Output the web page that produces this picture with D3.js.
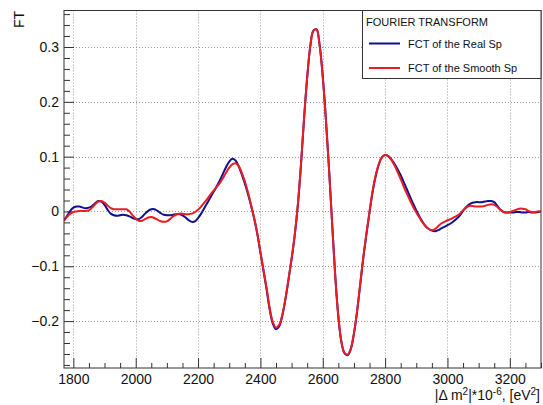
<!DOCTYPE html>
<html>
<head>
<meta charset="utf-8">
<script src="https://cdn.jsdelivr.net/npm/d3@7"></script>
<style>
  html, body { margin: 0; padding: 0; background: #fff; }
  svg { display: block; font-family: "Liberation Sans", Arial, sans-serif; }
</style>
</head>
<body>
<svg id="chart" width="543" height="405"></svg>
<script>
// |Δm²| sampling grid (units of 1e-6 eV²)
const dm2 = [
  1770, 1780, 1790, 1800, 1810, 1820, 1830, 1840, 1850, 1860,
  1870, 1880, 1890, 1900, 1910, 1920, 1930, 1940, 1950, 1960,
  1970, 1980, 1990, 2000, 2010, 2020, 2030, 2040, 2050, 2060,
  2070, 2080, 2090, 2100, 2110, 2120, 2130, 2140, 2150, 2160,
  2170, 2180, 2190, 2200, 2210, 2220, 2230, 2240, 2250, 2260,
  2270, 2280, 2290, 2300, 2310, 2320, 2330, 2340, 2350, 2360,
  2370, 2380, 2390, 2400, 2410, 2420, 2430, 2440, 2450, 2460,
  2470, 2480, 2490, 2500, 2510, 2520, 2530, 2540, 2550, 2560,
  2570, 2580, 2590, 2600, 2610, 2620, 2630, 2640, 2650, 2660,
  2670, 2680, 2690, 2700, 2710, 2720, 2730, 2740, 2750, 2760,
  2770, 2780, 2790, 2800, 2810, 2820, 2830, 2840, 2850, 2860,
  2870, 2880, 2890, 2900, 2910, 2920, 2930, 2940, 2950, 2960,
  2970, 2980, 2990, 3000, 3010, 3020, 3030, 3040, 3050, 3060,
  3070, 3080, 3090, 3100, 3110, 3120, 3130, 3140, 3150, 3160,
  3170, 3180, 3190, 3200, 3210, 3220, 3230, 3240, 3250, 3260,
  3270, 3280, 3290, 3300
];

// Fourier cosine transform of the real spectrum
const fctReal = [
  -0.016, -0.008, 0.001, 0.007, 0.009, 0.009, 0.007, 0.006, 0.007, 0.010,
  0.015, 0.019, 0.018, 0.012, 0.003, -0.004, -0.007, -0.008, -0.007, -0.006,
  -0.007, -0.009, -0.012, -0.014, -0.014, -0.010, -0.004, 0.001, 0.004, 0.004,
  0.001, -0.003, -0.006, -0.007, -0.007, -0.006, -0.005, -0.005, -0.007, -0.011,
  -0.016, -0.019, -0.018, -0.012, -0.004, 0.006, 0.016, 0.026, 0.036, 0.046,
  0.057, 0.069, 0.081, 0.091, 0.096, 0.093, 0.083, 0.068, 0.051, 0.032,
  0.011, -0.013, -0.041, -0.075, -0.109, -0.143, -0.180, -0.205, -0.215, -0.210,
  -0.191, -0.161, -0.125, -0.087, -0.044, 0.011, 0.084, 0.169, 0.244, 0.301,
  0.330, 0.332, 0.303, 0.246, 0.169, 0.079, -0.021, -0.117, -0.192, -0.239,
  -0.259, -0.262, -0.251, -0.223, -0.183, -0.134, -0.085, -0.042, -0.002, 0.036,
  0.065, 0.086, 0.099, 0.103, 0.101, 0.095, 0.087, 0.077, 0.066, 0.053,
  0.040, 0.027, 0.014, 0.002, -0.009, -0.019, -0.027, -0.032, -0.035, -0.036,
  -0.034, -0.031, -0.028, -0.025, -0.022, -0.018, -0.013, -0.007, 0.001, 0.008,
  0.013, 0.016, 0.017, 0.017, 0.017, 0.018, 0.019, 0.019, 0.017, 0.010,
  0.003, -0.001, -0.002, -0.002, -0.002, -0.001, -0.001, -0.002, -0.002, -0.001,
  -0.002, -0.002, -0.001, 0.000
];

// Fourier cosine transform of the smoothed spectrum
const fctSmooth = [
  -0.017, -0.010, -0.004, -0.001, 0.000, 0.001, 0.001, 0.001, 0.002, 0.007,
  0.013, 0.018, 0.019, 0.016, 0.011, 0.006, 0.004, 0.004, 0.004, 0.004,
  0.004, 0.000, -0.007, -0.013, -0.017, -0.017, -0.014, -0.011, -0.010, -0.012,
  -0.015, -0.018, -0.019, -0.018, -0.014, -0.009, -0.006, -0.004, -0.004, -0.005,
  -0.005, -0.004, -0.001, 0.003, 0.009, 0.016, 0.023, 0.031, 0.038, 0.045,
  0.052, 0.061, 0.071, 0.080, 0.086, 0.088, 0.083, 0.071, 0.055, 0.035,
  0.012, -0.012, -0.040, -0.074, -0.107, -0.140, -0.177, -0.202, -0.212, -0.207,
  -0.189, -0.160, -0.124, -0.086, -0.043, 0.012, 0.085, 0.170, 0.245, 0.302,
  0.330, 0.332, 0.303, 0.245, 0.168, 0.078, -0.022, -0.118, -0.192, -0.238,
  -0.258, -0.261, -0.250, -0.222, -0.182, -0.133, -0.083, -0.040, 0.000, 0.038,
  0.066, 0.087, 0.099, 0.103, 0.101, 0.094, 0.084, 0.072, 0.059, 0.045,
  0.032, 0.020, 0.008, -0.002, -0.011, -0.020, -0.027, -0.032, -0.034, -0.032,
  -0.027, -0.022, -0.019, -0.016, -0.014, -0.011, -0.008, -0.004, 0.002, 0.007,
  0.010, 0.010, 0.009, 0.009, 0.009, 0.010, 0.012, 0.013, 0.012, 0.008,
  0.003, -0.001, -0.002, -0.001, 0.001, 0.003, 0.005, 0.005, 0.004, 0.001,
  -0.001, -0.001, 0.000, 0.000
];

const xTicks = [1800, 2000, 2200, 2400, 2600, 2800, 3000, 3200];
const yTicks = [-0.2, -0.1, 0, 0.1, 0.2, 0.3];
const legendTitle = "FOURIER TRANSFORM";
const seriesNames = ["FCT of the Real Sp", "FCT of the Smooth Sp"];
const seriesColors = ["#10108f", "#ec1c24"];

const svg = d3.select("#chart");
const frame = { left: 64, right: 541, top: 10.5, bottom: 368 };

const x = d3.scaleLinear().domain([1770, 3300]).range([frame.left, frame.right]);
const y = d3.scaleLinear().domain([-0.2856, 0.3666]).range([frame.bottom, frame.top]);

const axisColor = "#333";
const gridColor = "#9a9a9a";

// grid
const grid = svg.append("g");
grid.selectAll("line.gx").data(xTicks).enter().append("line")
  .attr("x1", d => Math.round(x(d)) + 0.5).attr("x2", d => Math.round(x(d)) + 0.5)
  .attr("y1", frame.top).attr("y2", frame.bottom)
  .attr("stroke", gridColor).attr("stroke-width", 1).attr("stroke-dasharray", "1,2");
grid.selectAll("line.gy").data(yTicks).enter().append("line")
  .attr("y1", d => Math.round(y(d)) + 0.5).attr("y2", d => Math.round(y(d)) + 0.5)
  .attr("x1", frame.left).attr("x2", frame.right)
  .attr("stroke", gridColor).attr("stroke-width", 1).attr("stroke-dasharray", "1,2");

// minor ticks
const xMinor = d3.range(1800, 3301, 50).filter(v => v % 200 !== 0);
const yMinor = d3.range(-28, 37, 2).map(v => v / 100).filter(v => Math.abs(Math.round(v * 100) % 10) !== 0);

const xAxisMajor = d3.axisBottom(x).tickValues(xTicks).tickSize(-10).tickPadding(6)
  .tickFormat(d3.format("d"));
const xAxisMinor = d3.axisBottom(x).tickValues(xMinor).tickSize(-5).tickFormat("");
const yAxisMajor = d3.axisLeft(y).tickValues(yTicks).tickSize(-10).tickPadding(5)
  .tickFormat(d => d === 0 ? "0" : d3.format(".1f")(d).replace("-", "\u2212"));
const yAxisMinor = d3.axisLeft(y).tickValues(yMinor).tickSize(-6).tickFormat("");

function styleAxis(g) {
  g.select(".domain").remove();
  g.selectAll(".tick line").attr("stroke", axisColor).attr("stroke-width", 1);
  g.selectAll(".tick text").attr("fill", "#111").style("font-size", "14px")
    .style("font-family", "'Liberation Sans', Arial, sans-serif");
}

svg.append("g").attr("transform", `translate(0,${frame.bottom})`).call(xAxisMinor).call(styleAxis);
svg.append("g").attr("transform", `translate(0,${frame.bottom})`).call(xAxisMajor).call(styleAxis);
svg.append("g").attr("transform", `translate(${frame.left},0)`).call(yAxisMinor).call(styleAxis);
svg.append("g").attr("transform", `translate(${frame.left},0)`).call(yAxisMajor).call(styleAxis);

// curves
svg.append("clipPath").attr("id", "plotClip").append("rect")
  .attr("x", frame.left).attr("y", frame.top)
  .attr("width", frame.right - frame.left).attr("height", frame.bottom - frame.top);

const line = d3.line().x(d => x(d[0])).y(d => y(d[1])).curve(d3.curveCatmullRom.alpha(0.5));
const series = [fctReal, fctSmooth];
const plot = svg.append("g").attr("clip-path", "url(#plotClip)");
series.forEach((vals, i) => {
  plot.append("path")
    .datum(dm2.map((v, k) => [v, vals[k]]))
    .attr("d", line)
    .attr("fill", "none")
    .attr("stroke", seriesColors[i])
    .attr("stroke-width", 2)
    .attr("stroke-linejoin", "round");
});

// frame
svg.append("rect")
  .attr("x", frame.left).attr("y", frame.top)
  .attr("width", frame.right - frame.left).attr("height", frame.bottom - frame.top)
  .attr("fill", "none").attr("stroke", axisColor).attr("stroke-width", 1);

// legend
const leg = svg.append("g");
leg.append("rect").attr("x", 362.5).attr("y", 10.5).attr("width", 178.5).attr("height", 68)
  .attr("fill", "#fff").attr("stroke", axisColor).attr("stroke-width", 1);
leg.append("text").attr("x", 366).attr("y", 26).text(legendTitle)
  .style("font-size", "11px").attr("fill", "#111");
seriesNames.forEach((name, i) => {
  const cy = 43.5 + i * 24.5;
  leg.append("line").attr("x1", 369).attr("x2", 400).attr("y1", cy).attr("y2", cy)
    .attr("stroke", seriesColors[i]).attr("stroke-width", 2);
  leg.append("text").attr("x", 408).attr("y", cy + 4).text(name)
    .style("font-size", "11px").attr("fill", "#111");
});

// axis titles
const xt = svg.append("text").attr("x", 540).attr("y", 400).attr("text-anchor", "end")
  .style("font-size", "14px").attr("fill", "#111");
xt.append("tspan").text("|\u0394 m");
xt.append("tspan").attr("dy", -5).style("font-size", "10px").text("2");
xt.append("tspan").attr("dy", 5).text("|*10");
xt.append("tspan").attr("dy", -5).style("font-size", "10px").text("-6");
xt.append("tspan").attr("dy", 5).text(", [eV");
xt.append("tspan").attr("dy", -5).style("font-size", "10px").text("2");
xt.append("tspan").attr("dy", 5).text("]");

svg.append("text").attr("transform", "translate(24,11) rotate(-90)")
  .attr("text-anchor", "end").style("font-size", "14px").attr("fill", "#111").text("FT");
</script>
</body>
</html>
